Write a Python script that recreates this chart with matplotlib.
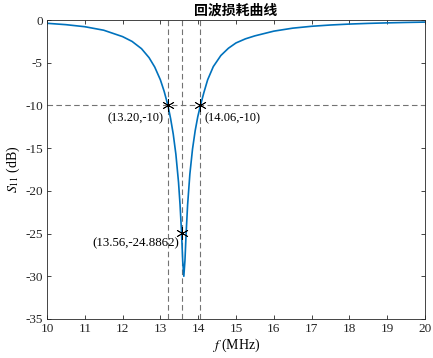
import matplotlib
matplotlib.use('Agg')
import matplotlib.pyplot as plt

plt.rcParams['font.family'] = ['Liberation Serif', 'Noto Sans CJK SC']
plt.rcParams['mathtext.fontset'] = 'stix'
plt.rcParams['axes.unicode_minus'] = False

# frequency (MHz) and return loss S11 (dB)
freq = [10.0, 10.5, 11.0, 11.5, 12.0, 12.25, 12.5, 12.7, 12.85, 13.0, 13.1, 13.2,
        13.27, 13.34, 13.41, 13.48, 13.52, 13.56, 13.59, 13.62, 13.65, 13.68, 13.72,
        13.78, 13.85, 13.92, 13.99, 14.06, 14.15, 14.25, 14.4, 14.6, 14.8, 15.0,
        15.25, 15.5, 16.0, 16.5, 17.0, 17.5, 18.0, 18.5, 19.0, 19.5, 20.0]
s11 = [-0.38, -0.54, -0.78, -1.19, -1.94, -2.5, -3.35, -4.4, -5.5, -7.0, -8.35, -10.0,
       -11.53, -13.35, -15.72, -19.0, -21.6, -24.8862, -28.14, -30.0, -28.15, -25.06, -21.65,
       -18.03, -15.11, -12.97, -11.3, -10.0, -8.5, -7.0, -5.45, -4.15, -3.3, -2.68,
       -2.2, -1.85, -1.3, -0.95, -0.73, -0.58, -0.47, -0.39, -0.33, -0.28, -0.24]

# marked points
mark_f = [13.20, 14.06, 13.56]
mark_s = [-10, -10, -24.8862]
mark_txt = ['(13.20,-10)', '(14.06,-10)', '(13.56,-24.8862)']

fig = plt.figure(figsize=(4.33, 3.58), dpi=100)
ax = fig.add_axes([0.1085, 0.109, 0.873, 0.835])

dash = dict(color='0.45', linestyle=(0, (5, 3)), linewidth=0.8)
ax.axhline(-10, **dash)
for f in mark_f:
    ax.axvline(f, **dash)

ax.plot(freq, s11, color='#0072BD', linewidth=1.2)
ax.plot(mark_f, mark_s, linestyle='none', marker=(6, 2, 0), color='black',
        markersize=9, markeredgewidth=0.6)

ax.text(13.07, -11.5, mark_txt[0], ha='right', va='center', fontsize=9)
ax.text(14.16, -11.5, mark_txt[1], ha='left', va='center', fontsize=9)
ax.text(13.5, -26.1, mark_txt[2], ha='right', va='center', fontsize=9.3)

ax.set_xlim(10, 20)
ax.set_ylim(-35, 0)
ax.set_xticks(range(10, 21))
ax.set_yticks(range(-35, 1, 5))
ax.tick_params(direction='in', top=True, right=True, labelsize=9.5, length=3,
               width=0.6, colors='0.15', pad=3)
for sp in ax.spines.values():
    sp.set_linewidth(0.6)
    sp.set_color('0.15')

ax.set_xlabel('$f$ (MHz)', fontsize=10, labelpad=1)
ax.set_ylabel('$S_{11}$ (dB)', fontsize=10, labelpad=2)
ax.set_title('回波损耗曲线', fontsize=10, fontweight='bold',
             family=['Noto Sans CJK SC', 'DejaVu Sans'], pad=4)

fig.savefig('out.png', dpi=100)
